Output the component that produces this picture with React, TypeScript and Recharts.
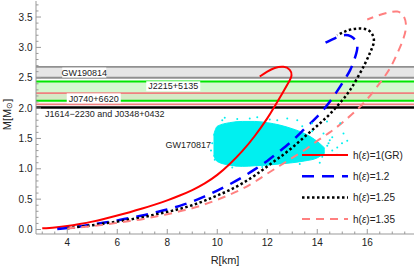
import React from 'react';
import {
  ComposedChart,
  Line,
  Area,
  Scatter,
  XAxis,
  YAxis,
  ReferenceArea,
  ReferenceLine,
  ReferenceDot,
  Legend,
} from 'recharts';

// mass-radius curves, [R km, M solar]
const grCurve: [number, number][] = [
  [3.0, 0.02], [3.5, 0.035], [4.0, 0.057], [4.5, 0.09], [5.0, 0.13], [5.5, 0.178],
  [6.0, 0.23], [6.5, 0.285], [7.0, 0.345], [7.5, 0.41], [8.0, 0.48], [8.5, 0.56],
  [9.0, 0.65], [9.5, 0.76], [10.0, 0.9], [10.5, 1.08], [11.0, 1.29], [11.5, 1.54],
  [12.0, 1.83], [12.3, 2.03], [12.6, 2.24], [12.85, 2.42], [12.97, 2.54],
  [12.9, 2.63], [12.65, 2.68], [12.3, 2.66], [12.0, 2.6], [11.7, 2.52],
];
const h12Curve: [number, number][] = [
  [3.6, 0.01], [4.0, 0.025], [4.5, 0.05], [5.0, 0.085], [5.5, 0.115], [6.0, 0.15],
  [6.5, 0.19], [7.0, 0.23], [7.5, 0.28], [8.0, 0.33], [8.5, 0.39], [9.0, 0.46],
  [9.5, 0.545], [10.0, 0.64], [10.5, 0.745], [11.0, 0.86], [11.5, 0.99], [12.0, 1.13],
  [12.5, 1.29], [13.0, 1.46], [13.5, 1.66], [14.0, 1.86], [14.4, 2.05], [14.75, 2.25],
  [15.05, 2.44], [15.32, 2.63], [15.5, 2.82], [15.6, 2.98], [15.55, 3.1], [15.35, 3.18],
  [15.05, 3.2], [14.7, 3.15], [14.3, 3.07],
];
const h125Curve: [number, number][] = [
  [4.0, 0.02], [4.5, 0.045], [5.0, 0.07], [5.5, 0.1], [6.0, 0.13], [6.5, 0.165],
  [7.0, 0.2], [7.5, 0.245], [8.0, 0.29], [8.5, 0.34], [9.0, 0.4], [9.5, 0.475],
  [10.0, 0.56], [10.5, 0.65], [11.0, 0.76], [11.5, 0.89], [12.0, 1.04], [12.5, 1.19],
  [13.0, 1.35], [13.5, 1.53], [14.0, 1.71], [14.5, 1.9], [15.0, 2.13], [15.35, 2.32],
  [15.65, 2.53], [15.92, 2.74], [16.12, 2.92], [16.26, 3.08], [16.22, 3.2], [16.05, 3.28],
  [15.75, 3.31], [15.4, 3.3], [15.1, 3.26], [14.8, 3.2],
];
const h135Curve: [number, number][] = [
  [4.0, 0.015], [4.5, 0.035], [5.0, 0.055], [5.5, 0.08], [6.0, 0.11], [6.5, 0.14],
  [7.0, 0.17], [7.5, 0.21], [8.0, 0.25], [8.5, 0.3], [9.0, 0.35], [9.5, 0.415],
  [10.0, 0.49], [10.5, 0.575], [11.0, 0.67], [11.5, 0.785], [12.0, 0.92], [12.5, 1.05],
  [13.0, 1.18], [13.5, 1.31], [14.0, 1.46], [14.5, 1.6], [15.0, 1.76], [15.5, 1.94],
  [16.0, 2.15], [16.5, 2.41], [16.9, 2.65], [17.2, 2.9], [17.45, 3.15], [17.55, 3.36],
  [17.45, 3.52], [17.2, 3.59], [16.8, 3.57], [16.4, 3.52], [16.0, 3.46],
];

// GW170817 posterior cloud: R, lower M, upper M
const cloudR = [9.85, 10.0, 10.5, 11.0, 11.5, 12.0, 12.5, 13.0, 13.5, 14.0, 14.3];
const cloudLow = [1.22, 1.12, 1.06, 1.04, 1.05, 1.06, 1.08, 1.1, 1.13, 1.18, 1.26];
const cloudHigh = [1.55, 1.7, 1.76, 1.78, 1.78, 1.76, 1.72, 1.66, 1.58, 1.45, 1.34];
const cloudStrays: [number, number][] = [
  [14.45, 1.42], [14.99, 1.42], [14.79, 1.23], [14.25, 1.58], [15.05, 1.58],
  [14.5, 1.47], [14.39, 1.78], [14.92, 1.75], [13.79, 1.75], [14.6, 1.3],
  [13.2, 1.8], [12.8, 1.83], [10.3, 1.84], [11.6, 1.85], [9.8, 1.42], [14.2, 1.2],
  [10.2, 1.8], [10.8, 1.82], [11.3, 1.83], [12.1, 1.81], [12.4, 1.8], [13.4, 1.7],
  [13.8, 1.62], [10.6, 1.02], [11.8, 1.03], [13.3, 1.08], [14.1, 1.1], [14.4, 1.38],
  [14.6, 1.52], [14.8, 1.35], [15.2, 1.46], [9.9, 1.15], [9.75, 1.3],
];

// observational bands (M solar)
const gw190814 = [2.5, 2.68];
const j2215 = [2.12, 2.44];
const j0740 = [2.06, 2.245];
const j1614 = 2.01;

const xMajorTicks = [4, 6, 8, 10, 12, 14, 16];
const yMajorTicks = [0, 0.5, 1, 1.5, 2, 2.5, 3, 3.5];
const xTicks = Array.from({ length: 30 }, (_, i) => 3 + i * 0.5);
const yTicks = Array.from({ length: 38 }, (_, i) => i / 10);

const series = [
  { name: '1(GR)', data: grCurve, color: '#ff0000', width: 2, dash: undefined as string | undefined },
  { name: '1.2', data: h12Curve, color: '#0000ff', width: 2.5, dash: '12 8' },
  { name: '1.25', data: h125Curve, color: '#000000', width: 2.5, dash: '2.5 2.5' },
  { name: '1.35', data: h135Curve, color: '#ff8080', width: 2, dash: '8 6' },
];

const annotations = [
  { text: 'GW190814', r: 4.68, m: 2.585, boxed: true },
  { text: 'J2215+5135', r: 8.24, m: 2.36, boxed: true },
  { text: 'J0740+6620', r: 5.06, m: 2.16, boxed: true },
  { text: 'J1614\u22122230 and J0348+0432', r: 5.5, m: 1.91, boxed: false },
  { text: 'GW170817', r: 8.84, m: 1.39, boxed: false },
];

const FONT = '"Liberation Sans", Arial, sans-serif';
const FRAME = '#999999';
const INK = '#222222';
const CYAN = '#00f0f0';

const toRows = (pts: [number, number][]) => pts.map(([r, m]) => ({ r, m }));
const cloudRows = cloudR.map((r, i) => ({ r, band: [cloudLow[i], cloudHigh[i]] }));

const isMajorX = (v: number) => xMajorTicks.some((t) => Math.abs(t - v) < 1e-6);
const isMajorY = (v: number) => yMajorTicks.some((t) => Math.abs(t - v) < 1e-6);
const len = (major: boolean) => (major ? 5 : 2.5);

function BottomTick({ x, y, payload }: any) {
  const major = isMajorX(payload.value);
  return (
    <g>
      <line x1={x} x2={x} y1={y} y2={y - len(major)} stroke={FRAME} />
      {major && (
        <text x={x} y={y + 11.5} textAnchor="middle" fontSize={10} fontFamily={FONT} fill={INK}>
          {payload.value}
        </text>
      )}
    </g>
  );
}

function TopTick({ x, y, payload }: any) {
  const major = isMajorX(payload.value);
  return <line x1={x} x2={x} y1={y} y2={y + len(major)} stroke={FRAME} />;
}

function LeftTick({ x, y, payload }: any) {
  const major = isMajorY(payload.value);
  return (
    <g>
      <line x1={x} x2={x + len(major)} y1={y} y2={y} stroke={FRAME} />
      {major && (
        <text x={x - 3.5} y={y + 3.6} textAnchor="end" fontSize={10} fontFamily={FONT} fill={INK}>
          {payload.value.toFixed(1)}
        </text>
      )}
    </g>
  );
}

function RightTick({ x, y, payload }: any) {
  const major = isMajorY(payload.value);
  return <line x1={x} x2={x - len(major)} y1={y} y2={y} stroke={FRAME} />;
}

function LegendBox() {
  return (
    <svg width={115} height={90} style={{ display: 'block' }}>
      {series.map((s, i) => {
        const cy = 10 + i * 21.3;
        return (
          <g key={s.name}>
            <line x1={2} x2={48} y1={cy} y2={cy} stroke={s.color} strokeWidth={s.width} strokeDasharray={s.dash} />
            <text x={53} y={cy + 3.6} fontSize={10} fontFamily={FONT} fill={INK}>
              h(<tspan fontStyle="italic">ε</tspan>)={s.name}
            </text>
          </g>
        );
      })}
    </svg>
  );
}

function AnnotationShape(a: (typeof annotations)[number]) {
  return ({ cx, cy }: any) => {
    const w = a.text.length * 5 + 4;
    return (
      <g>
        {a.boxed && <rect x={cx - w / 2} y={cy - 5} width={w} height={10} fill="#ffffff" />}
        <text x={cx} y={cy + 3.2} textAnchor="middle" fontSize={9} fontFamily={FONT} fill={INK}>
          {a.text}
        </text>
      </g>
    );
  };
}

export default function App() {
  return (
    <div style={{ position: 'absolute', left: 0, top: 0, background: '#fff' }}>
      <ComposedChart
        width={415}
        height={269}
        data={cloudRows}
        margin={{ top: 1, right: 1, bottom: 0, left: 0 }}
      >
        <XAxis
          dataKey="r"
          type="number"
          domain={[2.75, 17.87]}
          allowDataOverflow
          ticks={xTicks}
          interval={0}
          height={35}
          tickSize={0}
          tickMargin={0}
          tickLine={false}
          axisLine={{ stroke: FRAME }}
          tick={BottomTick}
          label={{
            content: ({ viewBox }: any) => (
              <text x={viewBox.x + viewBox.width / 2} y={viewBox.y + 30} textAnchor="middle" fontSize={11} fontFamily={FONT} fill={INK}>
                R[km]
              </text>
            ),
          }}
        />
        <XAxis
          xAxisId="top"
          orientation="top"
          dataKey="r"
          type="number"
          domain={[2.75, 17.87]}
          allowDataOverflow
          ticks={xTicks}
          interval={0}
          height={0}
          tickSize={0}
          tickMargin={0}
          tickLine={false}
          axisLine={{ stroke: FRAME }}
          tick={TopTick}
        />
        <YAxis
          type="number"
          domain={[-0.074, 3.764]}
          allowDataOverflow
          ticks={yTicks}
          interval={0}
          width={36}
          tickSize={0}
          tickMargin={0}
          tickLine={false}
          axisLine={{ stroke: FRAME }}
          tick={LeftTick}
          label={{
            content: ({ viewBox }: any) => {
              const cx = viewBox.x + 7;
              const cy = viewBox.y + viewBox.height / 2 - 3;
              return (
                <text x={cx} y={cy} transform={`rotate(-90 ${cx} ${cy})`} textAnchor="middle" dominantBaseline="central" fontSize={11} fontFamily={FONT} fill={INK}>
                  M[M<tspan fontSize={8} dy={2}>⊙</tspan><tspan dy={-2}>]</tspan>
                </text>
              );
            },
          }}
        />
        <YAxis
          yAxisId="right"
          orientation="right"
          type="number"
          domain={[-0.074, 3.764]}
          allowDataOverflow
          ticks={yTicks}
          interval={0}
          width={0}
          tickSize={0}
          tickMargin={0}
          tickLine={false}
          axisLine={{ stroke: FRAME }}
          tick={RightTick}
        />

        <ReferenceArea y1={gw190814[0]} y2={gw190814[1]} fill="#e6e6e6" fillOpacity={1} stroke="none" />
        <ReferenceArea y1={j2215[0]} y2={j2215[1]} fill="#d4f8d0" fillOpacity={1} stroke="none" />
        <ReferenceArea y1={j0740[0]} y2={j0740[1]} fill="#f08080" fillOpacity={0.12} stroke="none" />
        <ReferenceLine y={gw190814[0]} stroke="#909090" strokeWidth={1.8} />
        <ReferenceLine y={gw190814[1]} stroke="#909090" strokeWidth={1.8} />
        <ReferenceLine y={j2215[0]} stroke="#00e600" strokeWidth={2} />
        <ReferenceLine y={j2215[1]} stroke="#00e600" strokeWidth={2} />
        <ReferenceLine y={j0740[0]} stroke="#f08080" strokeWidth={1.8} />
        <ReferenceLine y={j0740[1]} stroke="#f08080" strokeWidth={1.8} />
        <ReferenceLine y={j1614} stroke="#000000" strokeWidth={2.5} />

        <Area
          dataKey="band"
          type="monotone"
          fill={CYAN}
          fillOpacity={1}
          stroke={CYAN}
          strokeWidth={1}
          isAnimationActive={false}
        />
        <Scatter
          data={toRows(cloudStrays)}
          dataKey="m"
          isAnimationActive={false}
          shape={(p: any) => <circle cx={p.cx} cy={p.cy} r={1} fill={CYAN} />}
        />

        {series.map((s) => (
          <Line
            key={s.name}
            data={toRows(s.data)}
            dataKey="m"
            type="natural"
            stroke={s.color}
            strokeWidth={s.width}
            strokeDasharray={s.dash}
            dot={false}
            activeDot={false}
            isAnimationActive={false}
          />
        ))}

        {annotations.map((a) => (
          <ReferenceDot key={a.text} x={a.r} y={a.m} r={0} shape={AnnotationShape(a)} />
        ))}

        <Legend
          layout="vertical"
          align="center"
          verticalAlign="middle"
          content={() => <LegendBox />}
          wrapperStyle={{ left: 300, top: 145, width: 115, height: 90 }}
        />
      </ComposedChart>
    </div>
  );
}
